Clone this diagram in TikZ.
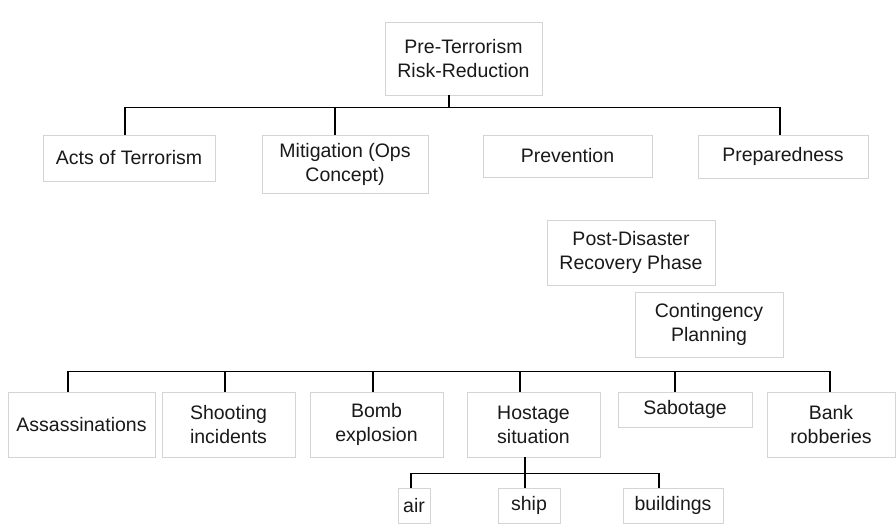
\documentclass[tikz,border=0pt]{standalone}
\usepackage{fontspec}
\setmainfont{Liberation Sans}
\begin{document}
\begin{tikzpicture}[x=1pt,y=-1pt,
  box/.style={draw=black!17, line width=0.9pt, inner sep=0pt, align=center,
    font=\fontsize{19.5}{24}\selectfont, text=black!90},
  link/.style={draw=black, line width=1.5pt}]
\useasboundingbox[fill=white] (0,0) rectangle (896,528);
% top level
\node[box, minimum width=157, minimum height=73] (top) at (463.5,58.5) {Pre-Terrorism\\Risk-Reduction};
\node[box, minimum width=172, minimum height=46] (acts) at (129,158) {Acts of Terrorism};
\node[box, minimum width=166, minimum height=58] (mitig) at (345,164) {Mitigation (Ops\\Concept)};
\node[box, minimum width=169, minimum height=42] (prev) at (567.5,156) {Prevention};
\node[box, minimum width=170, minimum height=43] (prep) at (783,156.5) {Preparedness};
% middle
\node[box, minimum width=168, minimum height=65] (post) at (631,252.5) {Post-Disaster\\Recovery Phase};
\node[box, minimum width=148, minimum height=65] (cont) at (709,324.5) {Contingency\\Planning};
% lower level
\node[box, minimum width=147, minimum height=65] (ass) at (81.5,424.5) {Assassinations};
\node[box, minimum width=133, minimum height=65] (shoot) at (228.5,424.5) {Shooting\\incidents};
\node[box, minimum width=133, minimum height=65] (bomb) at (376.5,424.5) {Bomb\\explosion};
\node[box, minimum width=133, minimum height=65] (host) at (533.5,424.5) {Hostage\\situation};
\node[box, minimum width=134, minimum height=35] (sab) at (685,409.5) {Sabotage};
\node[box, minimum width=128, minimum height=65] (bank) at (831,424.5) {Bank\\robberies};
% sub level
\node[box, minimum width=32, minimum height=35] (air) at (414,505.5) {air};
\node[box, minimum width=62, minimum height=35] (ship) at (529,505.5) {ship};
\node[box, minimum width=100, minimum height=35] (bld) at (673,505.5) {buildings};
% connectors: top tree
\draw[link] ([xshift=-14.5pt]top.south) -- ++(0,12) coordinate (j1);
\draw[link] ([xshift=-4pt]acts.north) |- (j1) -| ([xshift=-3pt]prep.north);
\draw[link] ([xshift=-10pt]mitig.north) -- ([xshift=-10pt]mitig.north |- j1);
% connectors: lower tree
\draw[link] ([xshift=-13.5pt]ass.north) -- ++(0,-20) coordinate (j2) -| ([xshift=-1pt]bank.north);
\draw[link] ([xshift=-3.5pt]shoot.north) -- ([xshift=-3.5pt]shoot.north |- j2);
\draw[link] ([xshift=-3.5pt]bomb.north) -- ([xshift=-3.5pt]bomb.north |- j2);
\draw[link] ([xshift=-13.5pt]host.north) -- ([xshift=-13.5pt]host.north |- j2);
\draw[link] ([xshift=-10pt]sab.north) -- ([xshift=-10pt]sab.north |- j2);
% connectors: hostage sub tree
\draw[link] ([xshift=-8.5pt]host.south) -- ++(0,16) coordinate (j3);
\draw[link] ([xshift=-3pt]air.north) |- (j3) -| ([xshift=-14pt]bld.north);
\draw[link] ([xshift=-4pt]ship.north) -- (ship.north -| j3) -- (j3);
\end{tikzpicture}
\end{document}
